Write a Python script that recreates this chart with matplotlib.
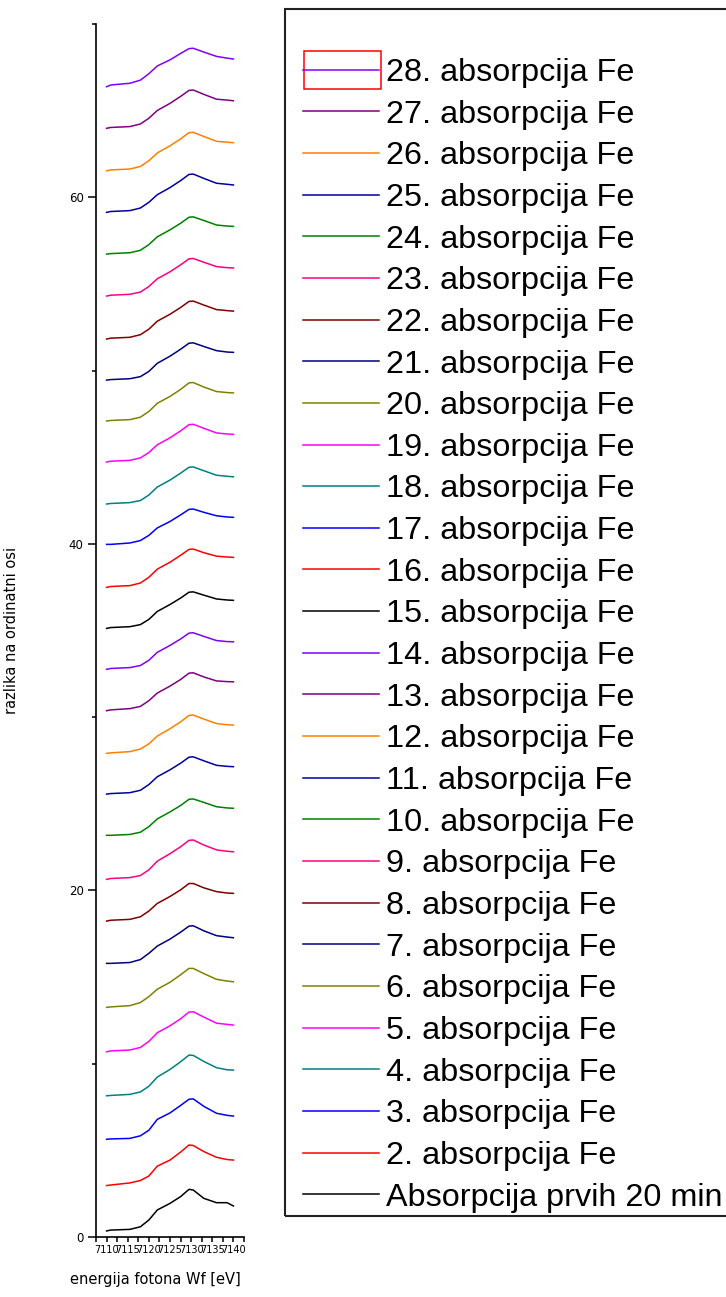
import matplotlib
matplotlib.use("Agg")
import matplotlib.pyplot as plt
from matplotlib.patches import Rectangle
from matplotlib.ticker import MultipleLocator, FormatStrFormatter

# Photon energy grid of the Fe K-edge scans [eV]
energy = [7110, 7111, 7115.5, 7118, 7120, 7122, 7125, 7127.5, 7129.5,
          7130.5, 7133, 7136, 7138.5, 7140]

# Vertical shift of every scan (razlika na ordinatni osi)
offsets = [0.35, 2.97, 5.64, 8.15, 10.69, 13.25, 15.79, 18.23, 20.64, 23.18,
           25.56, 27.91, 30.37, 32.76, 35.12, 37.49, 39.97, 42.30, 44.72, 47.09,
           49.45, 51.82, 54.30, 56.72, 59.13, 61.53, 63.98, 66.38]

# Absorption signal of each scan above its own baseline
spectra = [
    [0.00, 0.05, 0.09, 0.24, 0.63, 1.21, 1.59, 1.98, 2.40, 2.36, 1.88, 1.63, 1.63, 1.44],
    [0.00, 0.03, 0.15, 0.29, 0.55, 1.12, 1.47, 1.93, 2.34, 2.31, 1.96, 1.63, 1.50, 1.47],
    [0.00, 0.02, 0.05, 0.20, 0.52, 1.15, 1.52, 1.95, 2.31, 2.33, 1.90, 1.50, 1.38, 1.34],
    [0.00, 0.02, 0.08, 0.22, 0.55, 1.08, 1.52, 1.96, 2.35, 2.33, 1.98, 1.62, 1.50, 1.48],
    [0.00, 0.05, 0.10, 0.25, 0.60, 1.10, 1.50, 1.90, 2.29, 2.31, 2.00, 1.65, 1.58, 1.54],
    [0.00, 0.03, 0.10, 0.28, 0.62, 1.05, 1.45, 1.88, 2.25, 2.25, 1.95, 1.62, 1.52, 1.48],
    [0.00, 0.00, 0.05, 0.22, 0.58, 1.00, 1.40, 1.80, 2.15, 2.17, 1.88, 1.60, 1.52, 1.48],
    [0.00, 0.05, 0.10, 0.25, 0.58, 1.02, 1.42, 1.80, 2.17, 2.17, 1.92, 1.70, 1.62, 1.60],
    [0.00, 0.05, 0.10, 0.22, 0.55, 1.05, 1.48, 1.88, 2.25, 2.27, 1.98, 1.70, 1.62, 1.59],
    [0.00, 0.00, 0.05, 0.18, 0.50, 0.95, 1.35, 1.72, 2.08, 2.10, 1.90, 1.65, 1.58, 1.56],
    [0.00, 0.03, 0.08, 0.22, 0.55, 1.00, 1.40, 1.78, 2.13, 2.15, 1.92, 1.66, 1.60, 1.58],
    [0.00, 0.03, 0.10, 0.25, 0.55, 1.00, 1.42, 1.82, 2.19, 2.21, 1.98, 1.72, 1.65, 1.63],
    [0.00, 0.05, 0.12, 0.25, 0.58, 1.02, 1.42, 1.80, 2.17, 2.19, 1.95, 1.72, 1.68, 1.67],
    [0.00, 0.05, 0.10, 0.22, 0.52, 0.98, 1.38, 1.75, 2.09, 2.11, 1.90, 1.66, 1.60, 1.59],
    [0.00, 0.05, 0.10, 0.22, 0.52, 0.98, 1.38, 1.75, 2.09, 2.11, 1.92, 1.70, 1.64, 1.62],
    [0.00, 0.05, 0.10, 0.25, 0.58, 1.05, 1.45, 1.85, 2.19, 2.21, 2.00, 1.80, 1.75, 1.73],
    [0.00, 0.00, 0.08, 0.22, 0.52, 0.95, 1.32, 1.70, 2.02, 2.04, 1.85, 1.65, 1.58, 1.56],
    [0.00, 0.03, 0.08, 0.20, 0.52, 0.98, 1.38, 1.78, 2.12, 2.14, 1.92, 1.66, 1.60, 1.57],
    [0.00, 0.05, 0.10, 0.24, 0.55, 1.00, 1.40, 1.80, 2.16, 2.18, 1.95, 1.68, 1.62, 1.60],
    [0.00, 0.03, 0.08, 0.22, 0.55, 1.02, 1.42, 1.82, 2.20, 2.22, 1.96, 1.70, 1.64, 1.62],
    [0.00, 0.03, 0.08, 0.20, 0.50, 0.97, 1.38, 1.78, 2.13, 2.15, 1.94, 1.70, 1.62, 1.60],
    [0.00, 0.05, 0.10, 0.25, 0.57, 1.03, 1.43, 1.82, 2.17, 2.19, 1.96, 1.70, 1.64, 1.61],
    [0.00, 0.05, 0.10, 0.23, 0.55, 1.00, 1.40, 1.80, 2.15, 2.17, 1.95, 1.70, 1.64, 1.62],
    [0.00, 0.03, 0.08, 0.22, 0.55, 1.00, 1.40, 1.78, 2.13, 2.15, 1.94, 1.68, 1.62, 1.60],
    [0.00, 0.05, 0.10, 0.25, 0.58, 1.02, 1.43, 1.83, 2.19, 2.21, 1.96, 1.68, 1.62, 1.58],
    [0.00, 0.05, 0.10, 0.25, 0.58, 1.03, 1.44, 1.84, 2.20, 2.22, 1.98, 1.70, 1.65, 1.62],
    [0.00, 0.05, 0.10, 0.25, 0.58, 1.03, 1.44, 1.84, 2.19, 2.21, 1.96, 1.68, 1.63, 1.59],
    [0.00, 0.10, 0.20, 0.38, 0.75, 1.20, 1.55, 1.92, 2.20, 2.22, 2.00, 1.75, 1.65, 1.60],
]

labels = ["Absorpcija prvih 20 min"] + [f"{n}. absorpcija Fe" for n in range(2, 29)]

palette = ["#000000", "#FF0000", "#0000FF", "#008080", "#FF00FF", "#808000",
           "#000080", "#800000", "#FF0080", "#008000", "#0000A0", "#FF8000",
           "#800080", "#8000FF"]

x_ticks = [7110, 7115, 7120, 7125, 7130, 7135, 7140]
y_ticks = [0, 20, 40, 60]

W, H = 726, 1297
fig = plt.figure(figsize=(W / 100, H / 100), dpi=100)
ax = fig.add_axes([96 / W, 60 / H, 148 / W, 1213 / H])

handles = []
for i, (off, sig) in enumerate(zip(offsets, spectra)):
    (ln,) = ax.plot(energy, [off + v for v in sig], color=palette[i % len(palette)],
                    lw=1.1, label=labels[i])
    handles.append(ln)

ax.set_xlim(7107.5, 7142.5)
ax.set_ylim(0, 70)
ax.set_xticks(x_ticks)
ax.set_yticks(y_ticks)
ax.xaxis.set_minor_locator(MultipleLocator(2.5))
ax.yaxis.set_minor_locator(MultipleLocator(10))
ax.xaxis.set_major_formatter(FormatStrFormatter("%d"))

for side in ("top", "right"):
    ax.spines[side].set_visible(False)
for side in ("left", "bottom"):
    ax.spines[side].set_linewidth(1.2)

ax.tick_params(axis="y", which="major", length=6, width=1.1, labelsize=8.5, pad=3)
ax.tick_params(axis="y", which="minor", length=3, width=1.1)
ax.tick_params(axis="x", which="both", length=3.6, width=1.1)
ax.tick_params(axis="x", which="major", labelsize=7, pad=2)

ax.set_xlabel("energija fotona Wf [eV]", fontsize=10.5)
ax.xaxis.set_label_coords(0.40, -0.029)
ax.set_ylabel("razlika na ordinatni osi", fontsize=10.5)
ax.yaxis.set_label_coords(-0.52, 0.50)

# Legend, newest scan on top
fig.legend(handles[::-1], labels[::-1], loc="upper left",
           bbox_to_anchor=(303 / W, 1 - 58 / H), frameon=False,
           prop={"family": "Liberation Sans", "size": 23.3},
           handlelength=2.35, handletextpad=0.22, labelspacing=0.36,
           borderpad=0, borderaxespad=0)

# Legend frame running past the right edge
fig.add_artist(Rectangle((285 / W, (H - 1216) / H), (770 - 285) / W, (1216 - 9.3) / H,
                         transform=fig.transFigure, fill=False,
                         edgecolor="#222222", lw=1.5, clip_on=False))
# Selection marker around the first legend entry
fig.add_artist(Rectangle((304 / W, (H - 89.3) / H), 76.7 / W, 38.6 / H,
                         transform=fig.transFigure, fill=False,
                         edgecolor="#FF0000", lw=1.1))

fig.savefig("out.png", dpi=100)
